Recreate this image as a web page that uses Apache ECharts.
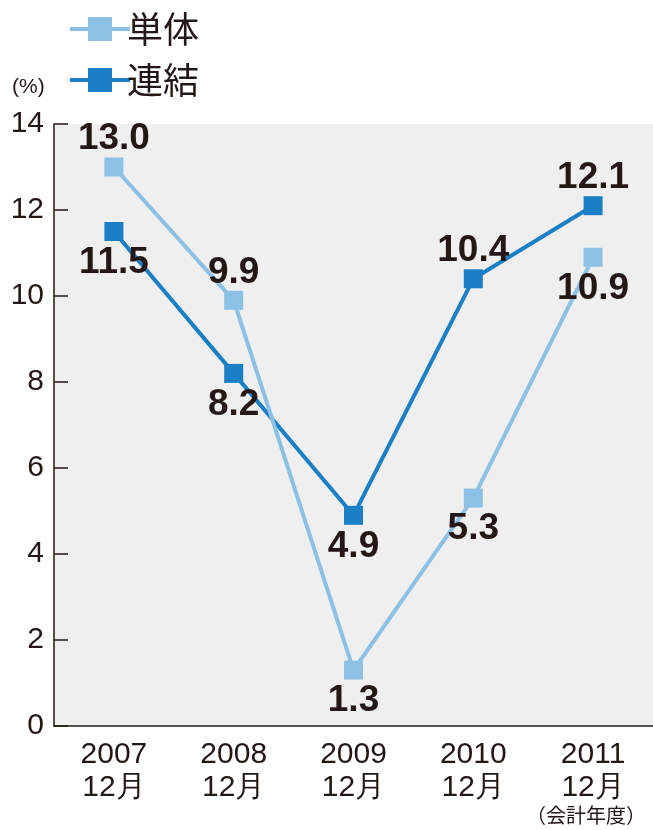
<!DOCTYPE html>
<html>
<head>
<meta charset="utf-8">
<style>
html,body{margin:0;padding:0;background:#fff;}
#c{width:653px;height:830px;}
</style>
<script src="https://cdn.jsdelivr.net/npm/echarts@6/dist/echarts.min.js"></script>
</head>
<body>
<div id="c"></div>
<script>
const categories = ['2007\n12月', '2008\n12月', '2009\n12月', '2010\n12月', '2011\n12月'];
const tantai = [13.0, 9.9, 1.3, 5.3, 10.9];
const renketsu = [11.5, 8.2, 4.9, 10.4, 12.1];
const tantaiLabelPos = ['top', 'top', 'bottom', 'bottom', 'bottom'];
const renketsuLabelPos = ['bottom', 'bottom', 'bottom', 'top', 'top'];
const yTicks = { min: 0, max: 14, interval: 2 };

const TXT = '#231815';
const LIGHT = '#8cc0e5';
const DARK = '#1a7fc5';
const JP = '"Noto Sans CJK JP", sans-serif';
const NUMF = '"Liberation Sans Narrow", "Liberation Sans", sans-serif';

function mk(vals, pos) {
  return vals.map((v, i) => ({
    value: v,
    label: { position: pos[i], distance: pos[i] === 'top' ? 0 : 3 }
  }));
}

const labelStyle = {
  show: true,
  fontFamily: NUMF,
  fontWeight: 'bold',
  fontSize: 37,
  color: TXT,
  formatter: p => p.value.toFixed(1)
};

const chart = echarts.init(document.getElementById('c'));
chart.setOption({
  animation: false,
  backgroundColor: '#ffffff',
  grid: {
    left: 54, right: -3, top: 124, bottom: 104,
    show: true, backgroundColor: '#efefef', borderWidth: 0
  },
  legend: {
    orient: 'vertical',
    left: 63, top: 6,
    itemWidth: 60, itemHeight: 30,
    itemGap: 15,
    lineStyle: { width: 4 },
    textStyle: { fontFamily: JP, fontSize: 36, lineHeight: 30, color: TXT, padding: [0, 0, 0, -8] },
    data: ['単体', '連結']
  },
  xAxis: {
    type: 'category',
    data: categories,
    boundaryGap: true,
    axisLine: { lineStyle: { color: TXT, width: 1.5 } },
    axisTick: { inside: true, length: 14, lineStyle: { color: TXT, width: 1.5 } },
    axisLabel: { fontFamily: '"Liberation Sans", sans-serif', fontSize: 30, lineHeight: 33, color: TXT, margin: 12 },
    splitLine: { show: false }
  },
  yAxis: {
    type: 'value',
    min: yTicks.min, max: yTicks.max, interval: yTicks.interval,
    axisLine: { show: true, lineStyle: { color: TXT, width: 1.5 } },
    axisTick: { show: true, inside: true, length: 14, lineStyle: { color: TXT, width: 1.5 } },
    axisLabel: { fontFamily: '"Liberation Sans", sans-serif', fontSize: 30, color: TXT, margin: 10 },
    splitLine: { show: false }
  },
  graphic: [
    { type: 'text', left: 12, top: 77, style: { text: '(%)', fontFamily: '"Liberation Sans", sans-serif', fontSize: 21, fill: TXT } },
    { type: 'text', left: 526, top: 805, style: { text: '（会計年度）', fontFamily: JP, fontSize: 20, fill: TXT } }
  ],
  series: [
    {
      name: '連結', type: 'line', z: 2,
      data: mk(renketsu, renketsuLabelPos),
      symbol: 'rect', symbolSize: 19,
      itemStyle: { color: DARK },
      lineStyle: { color: DARK, width: 4 },
      label: labelStyle
    },
    {
      name: '単体', type: 'line', z: 3,
      data: mk(tantai, tantaiLabelPos),
      symbol: 'rect', symbolSize: 19,
      itemStyle: { color: LIGHT },
      lineStyle: { color: LIGHT, width: 4 },
      label: labelStyle
    }
  ]
});
</script>
</body>
</html>
